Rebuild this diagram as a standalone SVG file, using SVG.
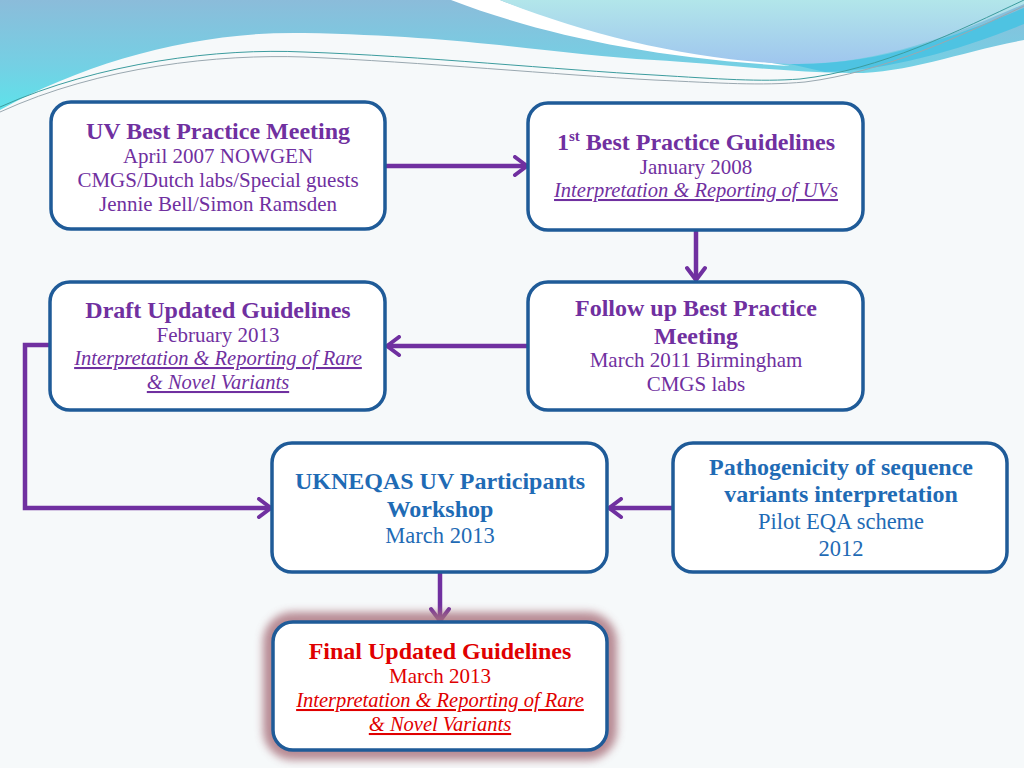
<svg xmlns="http://www.w3.org/2000/svg" width="1024" height="768" viewBox="0 0 1024 768">
<defs>
<linearGradient id="gBlue" x1="0" y1="0" x2="0" y2="1">
<stop offset="0" stop-color="#8BBCDA"/>
<stop offset="0.6" stop-color="#74D0E4"/>
<stop offset="1" stop-color="#5EE2EA"/>
</linearGradient>
<linearGradient id="gLight" x1="0" y1="0" x2="0" y2="1">
<stop offset="0" stop-color="#B2E6EA"/>
<stop offset="1" stop-color="#9FC6EE"/>
</linearGradient>
<filter id="glow" x="-20%" y="-30%" width="140%" height="160%">
<feGaussianBlur stdDeviation="4.5"/>
</filter>
<marker id="arr" viewBox="0 0 18 22" refX="16" refY="11" markerWidth="18" markerHeight="22" markerUnits="userSpaceOnUse" orient="auto">
<path d="M4,2 L16,11 L4,20" fill="none" stroke="#7030A0" stroke-width="4" stroke-linecap="round" stroke-linejoin="round"/>
</marker>
<style>
.box{fill:#FFFFFF;stroke:#1F5B98;stroke-width:3.5}
.conn{fill:none;stroke:#7030A0;stroke-width:4.5}
text{font-family:"Liberation Serif","DejaVu Serif",serif;text-anchor:middle}
.t{font-size:24px;font-weight:bold}
.b{font-size:21px}
.i{font-size:20.5px;font-style:italic;text-decoration:underline}
.p{fill:#7030A0}
.u{fill:#1F6BB5}
.r{fill:#E00000}
</style>
</defs>
<rect width="1024" height="768" fill="#F6F9FA"/>
<g id="header">
<path d="M0,0 H1024 V40 C960,52 905,74 850,73 C780,72 710,63 654,60 C560,55 470,36 304,33 C200,31 90,60 0,110 Z" fill="url(#gBlue)"/>
<path d="M451,0 C540,34 650,58 790,66 C700,52 580,32 500,0 Z" fill="#FFFFFF"/>
<path d="M500,0 C585,34 690,60 790,64 C880,66 960,32 1024,4 V0 Z" fill="url(#gLight)"/>
<path d="M790,64 C880,66 960,34 1024,8 V24 C960,50 890,70 825,72 Z" fill="#4EC3E2"/>
<path d="M0,107 C100,62 220,48 304,52 C420,56 560,70 654,75 C720,79 760,82 800,79 C880,70 960,30 1024,0" fill="none" stroke="#3C9C9E" stroke-width="1"/>
<path d="M0,112 C100,66 220,54 304,57 C420,62 560,75 654,80 C720,83 760,86 805,82 C885,72 965,34 1024,6" fill="none" stroke="#9AA8B0" stroke-width="1"/>
</g>
<g id="connectors">
<line class="conn" x1="385" y1="166" x2="527" y2="166" marker-end="url(#arr)"/>
<line class="conn" x1="696" y1="230" x2="696" y2="280" marker-end="url(#arr)"/>
<line class="conn" x1="528" y1="346" x2="387" y2="346" marker-end="url(#arr)"/>
<polyline class="conn" points="50,345 25,345 25,508 271,508" marker-end="url(#arr)"/>
<line class="conn" x1="673" y1="508" x2="609" y2="508" marker-end="url(#arr)"/>
<line class="conn" x1="440" y1="572" x2="440" y2="621" marker-end="url(#arr)"/>
</g>
<g id="n1">
<rect class="box" x="51" y="102" width="334" height="127" rx="20"/>
<text class="t p" x="218" y="139">UV Best Practice Meeting</text>
<text class="b p" x="218" y="163">April 2007 NOWGEN</text>
<text class="b p" x="218" y="187">CMGS/Dutch labs/Special guests</text>
<text class="b p" x="218" y="211">Jennie Bell/Simon Ramsden</text>
</g>
<g id="n2">
<rect class="box" x="528" y="103" width="335" height="127" rx="20"/>
<text class="t p" x="696" y="150">1<tspan font-size="15" dy="-9">st</tspan><tspan dy="9"> Best Practice Guidelines</tspan></text>
<text class="b p" x="696" y="174">January 2008</text>
<text class="i p" x="696" y="197">Interpretation &amp; Reporting of UVs</text>
</g>
<g id="n3">
<rect class="box" x="50" y="282" width="335" height="128" rx="20"/>
<text class="t p" x="218" y="318">Draft Updated Guidelines</text>
<text class="b p" x="218" y="342">February 2013</text>
<text class="i p" x="218" y="365">Interpretation &amp; Reporting of Rare</text>
<text class="i p" x="218" y="389">&amp; Novel Variants</text>
</g>
<g id="n4">
<rect class="box" x="528" y="282" width="335" height="128" rx="20"/>
<text class="t p" x="696" y="316">Follow up Best Practice</text>
<text class="t p" x="696" y="344">Meeting</text>
<text class="b p" x="696" y="367">March 2011 Birmingham</text>
<text class="b p" x="696" y="391">CMGS labs</text>
</g>
<g id="n5">
<rect class="box" x="272" y="443" width="335" height="129" rx="20"/>
<text class="t u" x="440" y="489">UKNEQAS UV Participants</text>
<text class="t u" x="440" y="517">Workshop</text>
<text class="u" x="440" y="543" font-size="22.5">March 2013</text>
</g>
<g id="n6">
<rect class="box" x="673" y="443" width="334" height="129" rx="20"/>
<text class="t u" x="841" y="475">Pathogenicity of sequence</text>
<text class="t u" x="841" y="502">variants interpretation</text>
<text class="u" x="841" y="529" font-size="22.5">Pilot EQA scheme</text>
<text class="u" x="841" y="556" font-size="22.5">2012</text>
</g>
<g id="n7">
<rect x="273" y="622" width="334" height="128" rx="20" fill="none" stroke="#A8707A" stroke-width="20" opacity="0.8" filter="url(#glow)"/>
<rect class="box" x="273" y="622" width="334" height="128" rx="20"/>
<text class="t r" x="440" y="659">Final Updated Guidelines</text>
<text class="b r" x="440" y="683">March 2013</text>
<text class="i r" x="440" y="707">Interpretation &amp; Reporting of Rare</text>
<text class="i r" x="440" y="731">&amp; Novel Variants</text>
</g>
</svg>
